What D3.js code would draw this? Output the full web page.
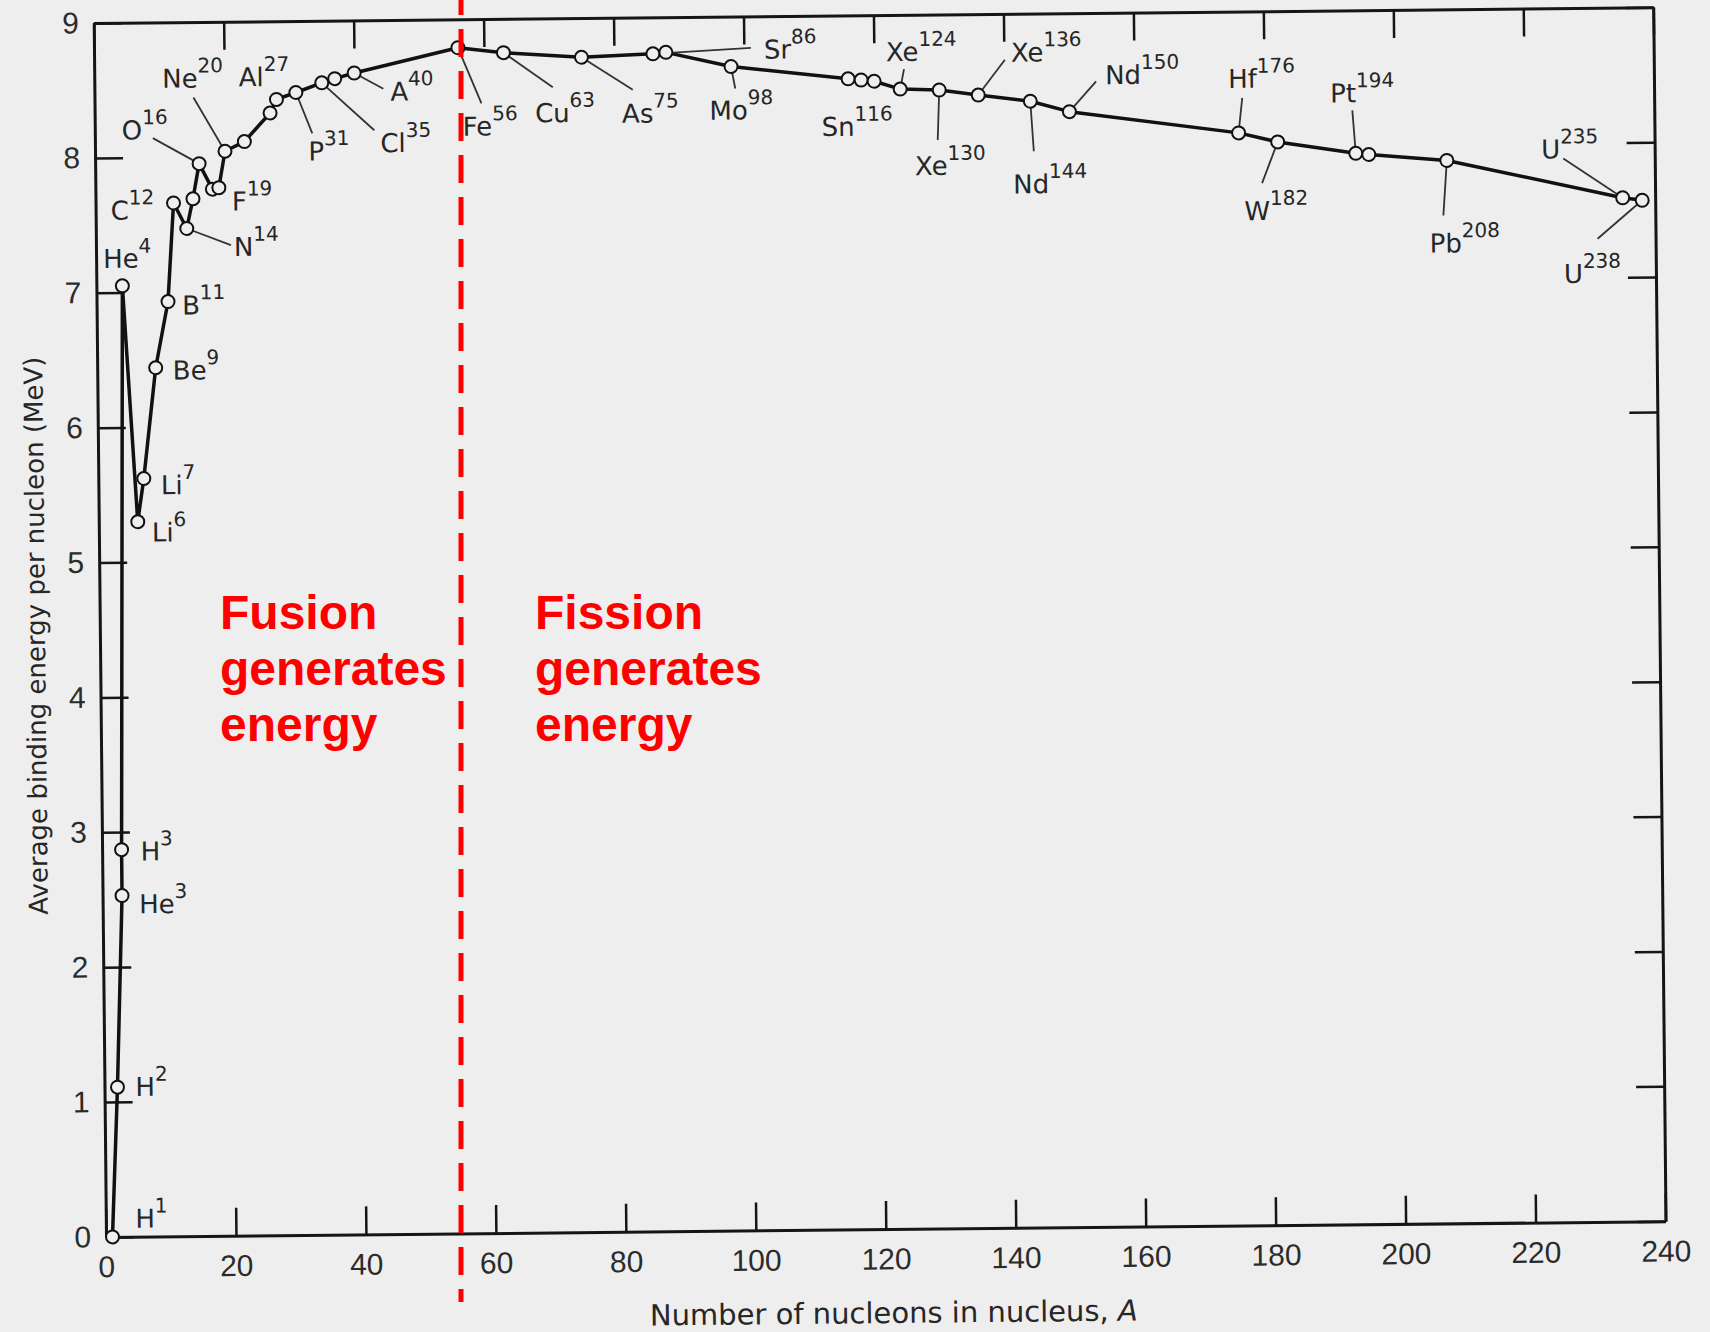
<!DOCTYPE html>
<html>
<head>
<meta charset="utf-8">
<script src="https://cdn.jsdelivr.net/npm/d3@7"></script>
<style>
  html, body { margin: 0; padding: 0; background: #eeeeee; }
  svg { display: block; }
  .scan text { font-family: "DejaVu Sans", sans-serif; fill: #262626; }
  .axis path, .axis line { stroke: #151515; }
  .axis path { stroke-width: 3; }
  .axis line { stroke-width: 2.5; }
  .axis text { font-family: "Liberation Sans", Arial, sans-serif; font-size: 30px; fill: #2b2b2b; }
  .note { font-family: "Liberation Sans", Arial, sans-serif; font-weight: bold; font-size: 48px; fill: #ff0000; }
</style>
</head>
<body>
<div id="chart"></div>
<script>
// nuclides, in the order the curve joins them
const symbols = ['H','H','He','H','He','Li','Li','Be','B','C','N','N','O','O','F','Ne','Na','Al','Si','P','Cl','Cl','A',
                 'Fe','Cu','As','Sr','Sr','Mo','Sn','Sn','Sn','Xe','Xe','Xe','Nd','Nd','Hf','W','Pt','Pt','Pb','U','U'];
const massNumbers = [1,2,3,3,4,6,7,9,11,12,14,15,16,18,19,20,23,27,28,31,35,37,40,
                     56,63,75,86,88,98,116,118,120,124,130,136,144,150,176,182,194,196,208,235,238];
const bindingEnergy = [0,1.11,2.53,2.87,7.05,5.30,5.62,6.44,6.93,7.66,7.47,7.69,7.95,7.76,7.77,8.04,8.11,8.32,8.42,8.47,8.54,8.57,8.61,
                       8.79,8.75,8.71,8.73,8.74,8.63,8.53,8.52,8.51,8.45,8.44,8.40,8.35,8.27,8.10,8.03,7.94,7.93,7.88,7.59,7.57];
const labelled = ['H1','H2','He3','H3','He4','Li6','Li7','Be9','B11','C12','N14','O16','F19','Ne20','Al27','P31','Cl35','A40',
                  'Fe56','Cu63','As75','Sr86','Mo98','Sn116','Xe124','Xe130','Xe136','Nd144','Nd150','Hf176','W182','Pt194','Pb208','U235','U238'];
const xTicks = d3.range(0, 241, 20);
const yTicks = d3.range(0, 10);
const xTitle = 'Number of nucleons in nucleus, ';
const yTitle = 'Average binding energy per nucleon (MeV)';
const notes = [['Fusion', 'generates', 'energy'], ['Fission', 'generates', 'energy']];

// where each label sits relative to its point: t = text start, l = end of leader line
const place = {
  H1: {t: [23, -9]}, H2: {t: [18, 9]}, He3: {t: [17, 18]}, H3: {t: [19, 11]}, He4: {t: [-19, -18]},
  Li6: {t: [14, 20]}, Li7: {t: [17, 16]}, Be9: {t: [17, 12]}, B11: {t: [14, 13]}, C12: {t: [-63, 16]},
  N14: {t: [47, 28], l: [44, 17]}, O16: {t: [-77, -25], l: [-46, -26]}, F19: {t: [13, 23]},
  Ne20: {t: [-62, -64], l: [-31, -54]}, Al27: {t: [-31, -27]}, P31: {t: [12, 68], l: [16, 41]},
  Cl35: {t: [58, 70], l: [52, 48]}, A40: {t: [36, 28], l: [29, 16]}, Fe56: {t: [4, 88], l: [23, 56]},
  Cu63: {t: [31, 70], l: [49, 35]}, As75: {t: [40, 66], l: [51, 33]}, Sr86: {t: [111, 6], l: [98, -5]},
  Mo98: {t: [-22, 53], l: [4, 22]}, Sn116: {t: [-27, 57]}, Xe124: {t: [-14, -28], l: [4, -20]},
  Xe130: {t: [-25, 85], l: [-2, 50]}, Xe136: {t: [33, -33], l: [27, -35]}, Nd144: {t: [-18, 92], l: [3, 50]},
  Nd150: {t: [36, -27], l: [27, -30]}, Hf176: {t: [-10, -45], l: [4, -35]}, W182: {t: [-34, 78], l: [-16, 41]},
  Pt194: {t: [-25, -51], l: [-3, -43]}, Pb208: {t: [-18, 92], l: [-4, 55]},
  U235: {t: [-81, -40], l: [-59, -40]}, U238: {t: [-79, 82], l: [-45, 38]}
};

const nuclides = symbols.map((s, i) => ({sym: s, A: massNumbers[i], E: bindingEnergy[i], key: s + massNumbers[i]}));

const x = d3.scaleLinear().domain([0, 240]).range([106, 1665.6]);
const y = d3.scaleLinear().domain([0, 9]).range([1237, 23]);

const svg = d3.select('#chart').append('svg')
  .attr('width', 1710)
  .attr('height', 1332);

// the scanned figure sits slightly tilted
const g = svg.append('g')
  .attr('class', 'scan')
  .attr('transform', `rotate(-0.58,${x(0)},${y(0)})`);

g.append('g').attr('class', 'axis')
  .attr('transform', `translate(0,${y(0)})`)
  .call(d3.axisBottom(x).tickValues(xTicks).tickSize(-28).tickSizeOuter(0).tickPadding(19));
g.append('g').attr('class', 'axis')
  .attr('transform', `translate(${x(0)},0)`)
  .call(d3.axisLeft(y).tickValues(yTicks).tickSize(-28).tickSizeOuter(0).tickPadding(15));
g.append('g').attr('class', 'axis')
  .attr('transform', `translate(0,${y(9)})`)
  .call(d3.axisTop(x).tickValues(xTicks).tickSize(-28).tickSizeOuter(0).tickFormat(''));
g.append('g').attr('class', 'axis')
  .attr('transform', `translate(${x(240)},0)`)
  .call(d3.axisRight(y).tickValues(yTicks).tickSize(-28).tickSizeOuter(0).tickFormat(''));

g.append('text')
  .attr('transform', `translate(42,${(y(0) + y(9)) / 2 + 5}) rotate(-90)`)
  .attr('text-anchor', 'middle')
  .attr('dy', '0.35em')
  .style('font-size', '26px')
  .text(yTitle);

const xt = g.append('text')
  .attr('x', 893)
  .attr('y', 1331)
  .attr('text-anchor', 'middle')
  .style('font-size', '29px')
  .text(xTitle);
xt.append('tspan').style('font-style', 'italic').text('A');

const line = d3.line()
  .x(d => x(d.A))
  .y(d => y(d.E));

g.append('path')
  .datum(nuclides)
  .attr('d', line)
  .attr('fill', 'none')
  .attr('stroke', '#111')
  .attr('stroke-width', 3.5)
  .attr('stroke-linejoin', 'round');

const tagged = nuclides.filter(d => labelled.includes(d.key));

g.selectAll('line.leader')
  .data(tagged.filter(d => place[d.key].l))
  .enter()
  .append('line')
  .attr('class', 'leader')
  .attr('x1', d => x(d.A))
  .attr('y1', d => y(d.E))
  .attr('x2', d => x(d.A) + place[d.key].l[0])
  .attr('y2', d => y(d.E) + place[d.key].l[1])
  .attr('stroke', '#333')
  .attr('stroke-width', 1.8);

g.selectAll('circle.pt')
  .data(nuclides)
  .enter()
  .append('circle')
  .attr('class', 'pt')
  .attr('cx', d => x(d.A))
  .attr('cy', d => y(d.E))
  .attr('r', 6.5)
  .attr('fill', '#eeeeee')
  .attr('stroke', '#111')
  .attr('stroke-width', 2);

const labels = g.selectAll('text.iso')
  .data(tagged)
  .enter()
  .append('text')
  .attr('class', 'iso')
  .attr('x', d => x(d.A) + place[d.key].t[0])
  .attr('y', d => y(d.E) + place[d.key].t[1])
  .style('font-size', '26px');
labels.append('tspan').text(d => d.sym);
labels.append('tspan')
  .attr('dy', -15)
  .style('font-size', '20px')
  .text(d => d.A);

// overlay added on top of the scan
svg.append('line')
  .attr('x1', 461).attr('x2', 461)
  .attr('y1', 0).attr('y2', 1302)
  .attr('stroke', '#ff0000')
  .attr('stroke-width', 5)
  .attr('stroke-dasharray', '28,14')
  .attr('stroke-dashoffset', 13);

notes.forEach((lines, i) => {
  const t = svg.append('text')
    .attr('class', 'note')
    .attr('x', i === 0 ? 220 : 535)
    .attr('y', 629);
  lines.forEach((s, j) => {
    t.append('tspan')
      .attr('x', i === 0 ? 220 : 535)
      .attr('dy', j === 0 ? 0 : 56)
      .text(s);
  });
});
</script>
</body>
</html>
